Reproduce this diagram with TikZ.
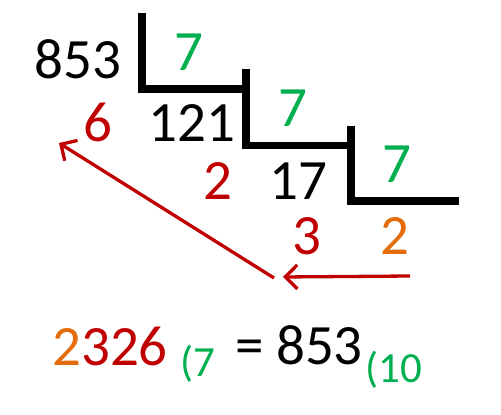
\documentclass[tikz,border=0pt]{standalone}
\usepackage{fontspec}
\setmainfont{Carlito}
\usetikzlibrary{arrows.meta}
\definecolor{cgreen}{HTML}{00B050}
\definecolor{cred}{HTML}{C00000}
\definecolor{corange}{HTML}{E46C0A}
\begin{document}
\begin{tikzpicture}[x=1pt,y=1pt,
  num/.style={inner sep=0pt,anchor=base,font=\fontsize{57}{60}\selectfont},
  sub/.style={inner sep=0pt,anchor=base,font=\fontsize{43}{46}\selectfont,text=cgreen},
  stair/.style={line width=7.6pt,line cap=butt,line join=miter},
  back/.style={cred,line width=3.3pt,-{Straight Barb[length=12pt,width=24pt,line width=3.3pt]}}]
\useasboundingbox (0,0) rectangle (501,415);
% staircase
\draw[stair] (142,402) -- (142,326) -- (246,326);
\draw[stair] (246,346) -- (246,269.5) -- (351,269.5);
\draw[stair] (351,289) -- (351,214) -- (459,214);
% numbers
\node[num] (n853) at (78,336) {853};
\node[num,text=cgreen] (d1) at (189,344) {7};
\node[num,text=cred] (r6) at (98,273) {6};
\node[num] (n121) at (192,273) {121};
\node[num,text=cgreen] (d2) at (293,288) {7};
\node[num,text=cred] (r2) at (218,215) {2};
\node[num] (n17) at (298,215) {17};
\node[num,text=cgreen] (d3) at (397,232) {7};
\node[num,text=cred] (r3) at (307,160) {3};
\node[num,text=corange] (r2o) at (395,160) {2};
% arrows
\coordinate (a1) at (410,139);
\coordinate (a2) at (283,138);
\coordinate (a3) at (274,137);
\coordinate (a4) at (59,272);
\draw[back] (a1) -- (a2);
\draw[back] (a3) -- (a4);
% result
\node[num] (res) at (110,49) {\textcolor{corange}{2}\textcolor{cred}{326}};
\node[sub] (b7) at (198,38) {(7};
\node[num] (eq) at (250,50) {=};
\node[num] (r853) at (319.5,50) {853};
\node[sub] (b10) at (394,32) {(10};
\end{tikzpicture}
\end{document}
